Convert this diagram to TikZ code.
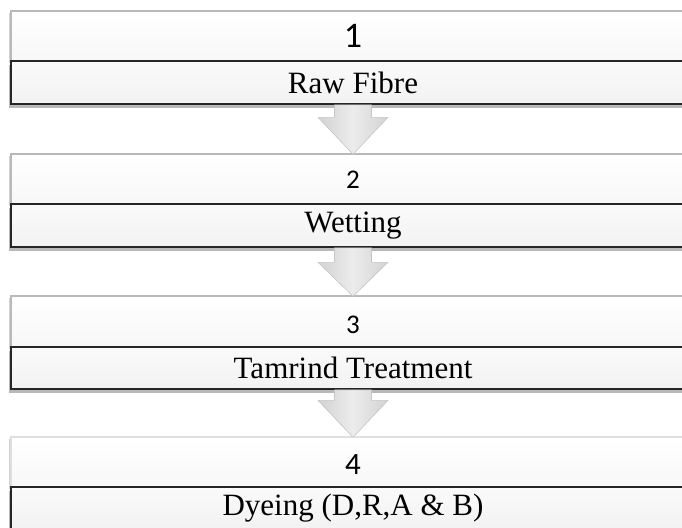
\documentclass[tikz,border=0pt]{standalone}
\usepackage{fontspec}
\setmainfont{Liberation Serif}
\newfontfamily\calib{Carlito}
\usetikzlibrary{calc,shadows}
\tikzset{
  topbox/.style={draw=gray!55, line width=1.4pt, top color=white, bottom color=gray!6,
    minimum width=684pt, minimum height=50pt, inner sep=0pt,
    drop shadow={shadow xshift=-2pt, shadow yshift=-2pt, opacity=0.35}},
  labbox/.style={draw=black!85, line width=1.6pt, top color=gray!4, bottom color=gray!10,
    minimum width=684pt, inner sep=0pt, font=\fontsize{31}{31}\selectfont,
    drop shadow={shadow xshift=-2pt, shadow yshift=-4pt, opacity=0.55}},
  numtext/.style={inner sep=0pt, font=\calib\fontsize{#1}{#1}\selectfont},
  flowarr/.style={draw=gray!45, line width=0.6pt, left color=gray!35, right color=gray!35, middle color=gray!15}
}
\newcommand{\flowarrow}[3]{% from node, to node, head length
  \path[flowarr] ($(#1.south)+(-18.5,0)$) -- ($(#2.north)+(-18.5,-#3)$) -- ($(#2.north)+(-35,-#3)$)
    -- ($(#2.north)+(0,1)$) -- ($(#2.north)+(35,-#3)$) -- ($(#2.north)+(18.5,-#3)$)
    -- ($(#1.south)+(18.5,0)$) -- cycle;}
\begin{document}
\begin{tikzpicture}[x=1pt,y=-1pt]
\useasboundingbox (0,0) rectangle (682,527);
\clip (0,0) rectangle (682,527);
\fill[white] (0,0) rectangle (682,527);
% stage 1
\node[topbox] (t1) at (353,36) {};
\node[numtext=36] (n1) at (353,36) {1};
\node[labbox, minimum height=43pt] (l1) at (353,82.5) {Raw Fibre};
% stage 2
\node[topbox] (t2) at (353,179) {};
\node[numtext=27] (n2) at (353,179.5) {2};
\node[labbox, minimum height=43pt] (l2) at (353,225.5) {Wetting};
% stage 3
\node[topbox, minimum height=51pt] (t3) at (353,321.5) {};
\node[numtext=27] (n3) at (353,324.5) {3};
\node[labbox, minimum height=42pt] (l3) at (353,368) {Tamrind Treatment};
% stage 4
\node[topbox, draw=gray!25] (t4) at (353,462) {};
\node[numtext=31] (n4) at (353,464.5) {4};
\node[labbox, minimum height=43pt] (l4) at (353,508.5) {Dyeing (D,R,A \& B)};
% arrows
\flowarrow{l1}{t2}{36}
\flowarrow{l2}{t3}{33}
\flowarrow{l3}{t4}{36}
\end{tikzpicture}
\end{document}
